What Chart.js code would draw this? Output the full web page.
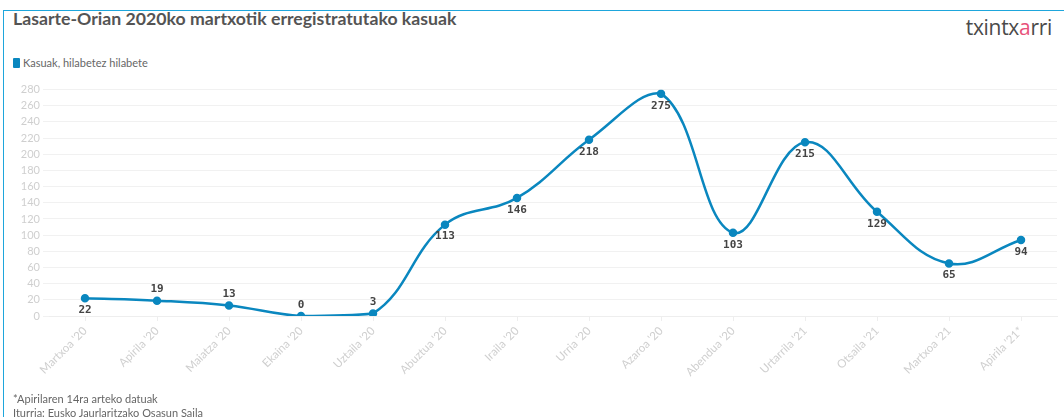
<!DOCTYPE html>
<html>
<head>
<meta charset="utf-8">
<script src="https://cdn.jsdelivr.net/npm/chart.js@4/dist/chart.umd.min.js"></script>
<style>
    body { margin: 0; background: #fff; font-family: Lato, "Open Sans", sans-serif; }
    #frame { position: absolute; left: 3px; top: 10px; width: 1070px; height: 420px; border-top: 1px solid #1ea6dc; border-left: 1px solid #1ea6dc; }
    #title { position: absolute; left: 13px; top: 8px; font-size: 17.7px; font-weight: 700; color: #545454; }
    #logo { position: absolute; right: 12px; top: 13px; font-size: 21px; color: #4a4a4a; letter-spacing: -0.3px; font-family: "Open Sans", sans-serif; }
    #logo span { color: #e8527a; }
    #legend { position: absolute; left: 13px; top: 56px; font-size: 11px; color: #666; }
    #legend i { display: inline-block; width: 7px; height: 10px; background: #0a87bf; border-radius: 1px; vertical-align: -1px; margin-right: 3px; }
    #notes { position: absolute; left: 13px; top: 392px; font-size: 11px; color: #666; line-height: 14px; }
    #wrap { position: absolute; left: 0; top: 80px; width: 1064px; height: 320px; }
</style>
</head>
<body>
<div id="frame"></div>
<div id="title">Lasarte-Orian 2020ko martxotik erregistratutako kasuak</div>
<div id="logo">txintx<span>a</span>rri</div>
<div id="legend"><i></i>Kasuak, hilabetez hilabete</div>
<div id="wrap"><canvas id="lineChart"></canvas></div>
<div id="notes">*Apirilaren 14ra arteko datuak<br>Iturria: Eusko Jaurlaritzako Osasun Saila</div>

<script>
const months = ["Martxoa '20", "Apirila '20", "Maiatza '20", "Ekaina '20", "Uztaila '20", "Abuztua '20", "Iraila '20",
    "Urria '20", "Azaroa '20", "Abendua '20", "Urtarrila '21", "Otsaila '21", "Martxoa '21", "Apirila '21*"];
const cases = [22, 19, 13, 0, 3, 113, 146, 218, 275, 103, 215, 129, 65, 94];
// label above (true) or below (false) the point
const labelAbove = [false, true, true, true, true, false, false, false, false, false, false, false, false, false];

// draw the numbers next to the points
const valueLabels = {
    id: 'valueLabels',
    afterDatasetsDraw(chart) {
        const ctx = chart.ctx
        const meta = chart.getDatasetMeta(0)
        ctx.save()
        ctx.font = 'bold 11px "DejaVu Sans Mono", monospace'
        ctx.fillStyle = '#444'
        ctx.textAlign = 'center'
        ctx.textBaseline = 'middle'
        meta.data.forEach(function (pt, i) {
            const dy = labelAbove[i] ? -11 : 12
            ctx.fillText(String(cases[i]), pt.x, pt.y + dy)
        })
        ctx.restore()
    }
}

new Chart(document.getElementById('lineChart'), {
    type: 'line',
    data: {
        labels: months,
        datasets: [{
            label: 'Kasuak, hilabetez hilabete',
            data: cases,
            borderColor: '#0a87bf',
            backgroundColor: '#0a87bf',
            borderWidth: 2.5,
            pointRadius: 3,
            tension: 0.4
        }]
    },
    options: {
        responsive: true,
        maintainAspectRatio: false,
        animation: false,
        layout: { padding: { top: 9, right: 7, left: 0, bottom: 0 } },
        scales: {
            x: {
                offset: true,
                grid: { display: true, drawOnChartArea: false, color: '#eee', tickLength: 5 },
                border: { color: '#eee' },
                ticks: { color: '#cfcfcf', font: { family: 'Lato', size: 11.5 }, maxRotation: 45, minRotation: 45, autoSkip: false },
                afterFit: function (scale) { scale.height = 84 }
            },
            y: {
                min: 0, max: 280,
                grid: { color: '#f1f1f1', tickLength: 6 },
                border: { display: false },
                ticks: { stepSize: 20, autoSkip: false, color: '#cfcfcf', font: { family: 'Lato', size: 11 }, padding: 3 },
                afterFit: function (scale) { scale.width = 49 }
            }
        },
        plugins: {
            legend: { display: false },
            tooltip: { enabled: false }
        }
    },
    plugins: [valueLabels]
});
</script>
</body>
</html>
